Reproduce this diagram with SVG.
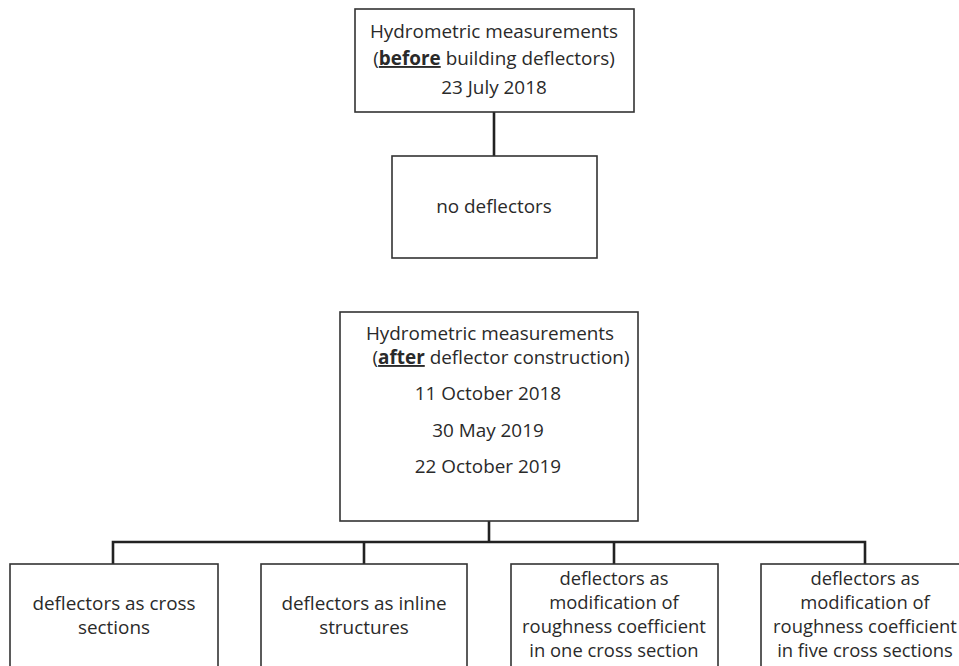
<svg xmlns="http://www.w3.org/2000/svg" width="959" height="666" viewBox="0 0 959 666">
<style>
.box{fill:#fff;stroke:#333;stroke-width:1.6}
.t{font-family:"Open Sans","Liberation Sans",sans-serif;font-size:18.9px;fill:#2a2a2a;text-anchor:middle}
.s{font-size:18.4px}
.b{font-weight:bold;text-decoration:underline}
.c{fill:none;stroke:#222;stroke-width:2.6}
</style>
<rect width="959" height="666" fill="#fff"/>
<g id="connectors">
<line class="c" x1="494" y1="112" x2="494" y2="156"/>
<line class="c" x1="489" y1="521" x2="489" y2="542"/>
<polyline class="c" points="113,564 113,542 865,542 865,564"/>
<line class="c" x1="364" y1="542" x2="364" y2="564"/>
<line class="c" x1="614" y1="542" x2="614" y2="564"/>
</g>
<g id="before">
<rect class="box" x="355" y="9" width="279" height="103"/>
<text class="t" x="494" y="38">Hydrometric measurements</text>
<text class="t" x="494" y="65">(<tspan class="b">before</tspan> building deflectors)</text>
<text class="t" x="494" y="94">23 July 2018</text>
</g>
<g id="nodefl">
<rect class="box" x="392" y="156" width="205" height="102"/>
<text class="t" x="494" y="213">no deflectors</text>
</g>
<g id="after">
<rect class="box" x="340" y="312" width="298" height="209"/>
<text class="t" x="490" y="340">Hydrometric measurements</text>
<text class="t" x="501" y="364">(<tspan class="b">after</tspan> deflector construction)</text>
<text class="t" x="488" y="400">11 October 2018</text>
<text class="t" x="488" y="437">30 May 2019</text>
<text class="t" x="488" y="473">22 October 2019</text>
</g>
<g id="cross">
<rect class="box" x="10" y="564" width="208" height="120"/>
<text class="t" x="114" y="610">deflectors as cross</text>
<text class="t" x="114" y="634">sections</text>
</g>
<g id="inline">
<rect class="box" x="261" y="564" width="206" height="120"/>
<text class="t" x="364" y="610">deflectors as inline</text>
<text class="t" x="364" y="634">structures</text>
</g>
<g id="one">
<rect class="box" x="511" y="564" width="207" height="120"/>
<text class="t s" x="614" y="585">deflectors as</text>
<text class="t s" x="614" y="609">modification of</text>
<text class="t s" x="614" y="633">roughness coefficient</text>
<text class="t s" x="614" y="657">in one cross section</text>
</g>
<g id="five">
<rect class="box" x="761" y="564" width="208" height="120"/>
<text class="t s" x="865" y="585">deflectors as</text>
<text class="t s" x="865" y="609">modification of</text>
<text class="t s" x="865" y="633">roughness coefficient</text>
<text class="t s" x="865" y="657">in five cross sections</text>
</g>
</svg>
